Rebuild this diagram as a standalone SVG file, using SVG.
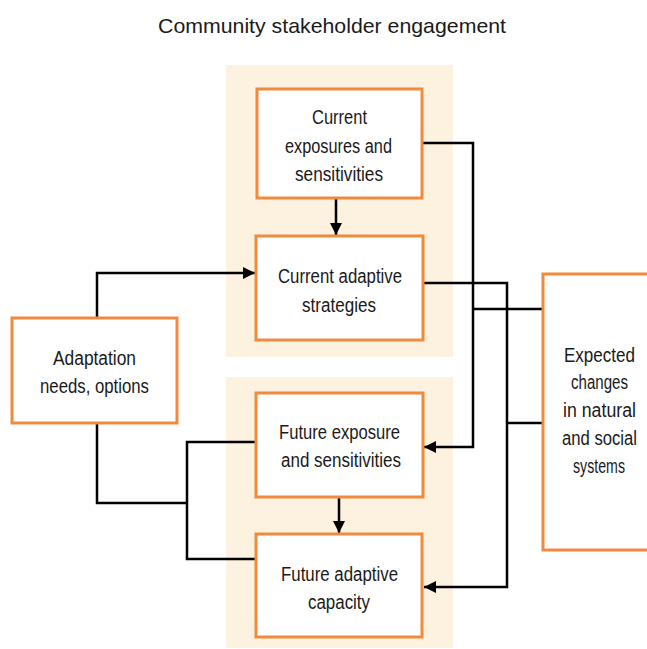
<svg xmlns="http://www.w3.org/2000/svg" width="647" height="649" viewBox="0 0 647 649">
<defs>
<style>
.panel{fill:#FDF1DF;stroke:none}
.box{fill:#FFFFFF;stroke:#F08A3C;stroke-width:3}
.lbl{font-family:"Liberation Sans",Arial,sans-serif;font-size:20px;fill:#1A1A1A;text-anchor:middle}
.title{font-family:"Liberation Sans",Arial,sans-serif;font-size:21px;fill:#1A1A1A;text-anchor:middle}
.conn{fill:none;stroke:#000000;stroke-width:2.5;stroke-linejoin:miter}
</style>
<marker id="ah" viewBox="0 0 10 10" refX="10" refY="5" markerWidth="14" markerHeight="12" markerUnits="userSpaceOnUse" orient="auto">
<path d="M0,0 L10,5 L0,10 z" fill="#000000"/>
</marker>
</defs>
<rect width="647" height="649" fill="#FFFFFF"/>
<text class="title" x="332" y="33" textLength="348" lengthAdjust="spacingAndGlyphs">Community stakeholder engagement</text>
<g id="panels">
<rect class="panel" x="226" y="65" width="227" height="292"/>
<rect class="panel" x="226" y="377" width="227" height="271"/>
</g>
<g id="connectors">
<path class="conn" d="M422,143 H473 V447 H424" marker-end="url(#ah)"/>
<path class="conn" d="M423,283 H507 V587 H424" marker-end="url(#ah)"/>
<path class="conn" d="M543,309 H473"/>
<path class="conn" d="M543,423 H507"/>
<path class="conn" d="M97,318 V273 H255" marker-end="url(#ah)"/>
<path class="conn" d="M97,423 V503 H187"/>
<path class="conn" d="M256,442 H187 V559 H256"/>
<path class="conn" d="M336,198 V235" marker-end="url(#ah)"/>
<path class="conn" d="M339,497 V533" marker-end="url(#ah)"/>
</g>
<g id="current-exposures">
<rect class="box" x="257" y="89" width="165" height="109"/>
<text class="lbl"><tspan x="339.5" y="124" textLength="55" lengthAdjust="spacingAndGlyphs">Current</tspan><tspan x="338.5" y="153" textLength="107" lengthAdjust="spacingAndGlyphs">exposures and</tspan><tspan x="339" y="181" textLength="88" lengthAdjust="spacingAndGlyphs">sensitivities</tspan></text>
</g>
<g id="current-adaptive">
<rect class="box" x="256" y="236" width="167" height="104"/>
<text class="lbl"><tspan x="340" y="283" textLength="124" lengthAdjust="spacingAndGlyphs">Current adaptive</tspan><tspan x="339" y="312" textLength="74" lengthAdjust="spacingAndGlyphs">strategies</tspan></text>
</g>
<g id="future-exposure">
<rect class="box" x="256" y="393" width="167" height="104"/>
<text class="lbl"><tspan x="339.5" y="439" textLength="121" lengthAdjust="spacingAndGlyphs">Future exposure</tspan><tspan x="341" y="467" textLength="120" lengthAdjust="spacingAndGlyphs">and sensitivities</tspan></text>
</g>
<g id="future-adaptive">
<rect class="box" x="256" y="534" width="166" height="103"/>
<text class="lbl"><tspan x="339.5" y="581" textLength="117" lengthAdjust="spacingAndGlyphs">Future adaptive</tspan><tspan x="339" y="609" textLength="62" lengthAdjust="spacingAndGlyphs">capacity</tspan></text>
</g>
<g id="adaptation">
<rect class="box" x="12" y="318" width="165" height="105"/>
<text class="lbl"><tspan x="94.5" y="365" textLength="83" lengthAdjust="spacingAndGlyphs">Adaptation</tspan><tspan x="94.5" y="393" textLength="109" lengthAdjust="spacingAndGlyphs">needs, options</tspan></text>
</g>
<g id="expected">
<rect class="box" x="543" y="274" width="112" height="276"/>
<text class="lbl"><tspan x="599.5" y="362" textLength="71" lengthAdjust="spacingAndGlyphs">Expected</tspan><tspan x="599.5" y="389" textLength="57" lengthAdjust="spacingAndGlyphs">changes</tspan><tspan x="599.5" y="417" textLength="73" lengthAdjust="spacingAndGlyphs">in natural</tspan><tspan x="599.5" y="445" textLength="75" lengthAdjust="spacingAndGlyphs">and social</tspan><tspan x="599" y="473" textLength="52" lengthAdjust="spacingAndGlyphs">systems</tspan></text>
</g>
</svg>
